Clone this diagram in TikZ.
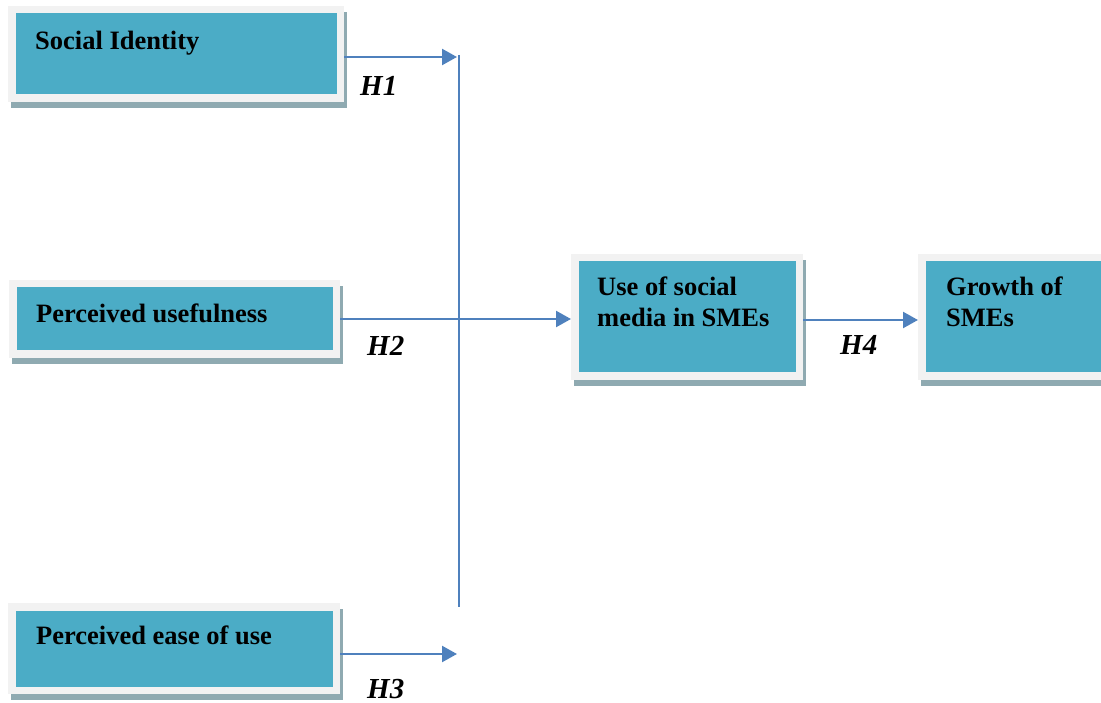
\documentclass[tikz,border=0pt]{standalone}
\usepackage{fontspec}
\setmainfont{Liberation Serif}
\usepackage{xcolor}
\usepackage{tikz}
\usetikzlibrary{arrows.meta}
\definecolor{boxfill}{HTML}{4BACC6}
\definecolor{boxframe}{HTML}{F2F2F2}
\definecolor{boxshade}{HTML}{8FAAB1}
\definecolor{linkblue}{HTML}{4F81BD}

\begin{document}
\begin{tikzpicture}[x=1pt,y=-1pt]
  \tikzstyle{factor} = [draw=boxframe,fill=boxfill,line width=7.5pt,inner sep=0pt,
    preaction={draw=boxshade,fill=boxshade,line width=7.5pt,
      transform canvas={xshift=3pt,yshift=-6pt}}]
  \tikzstyle{factortext} = [anchor=base west,inner sep=0pt,align=left,
    font=\bfseries\fontsize{26.5}{31}\selectfont]
  \tikzstyle{hyp} = [anchor=base west,inner sep=0pt,
    font=\bfseries\itshape\fontsize{29}{31}\selectfont]
  \tikzstyle{link} = [draw=linkblue,line width=2.3pt]
  \tikzstyle{linkarrow} = [link,-{Triangle[length=15pt,width=16pt]}]
  %
  \useasboundingbox (0,0) rectangle (1101,703);

  % Boxes.
  \node[factor,minimum width=328.5pt,minimum height=88.5pt] (social) at (176,54) {};
  \node[factor,minimum width=323.5pt,minimum height=70.5pt] (useful) at (174.5,319) {};
  \node[factor,minimum width=324.5pt,minimum height=83.5pt] (ease) at (174,648.5) {};
  \node[factor,minimum width=224.5pt,minimum height=118.5pt] (usesm) at (687,317) {};
  \node[factor,minimum width=184.5pt,minimum height=118.5pt] (growth) at (1014,317) {};

  % Box texts (base = last line).
  \node[factortext] (socialtext) at (35,50) {Social Identity};
  \node[factortext] (usefultext) at (36,323) {Perceived usefulness};
  \node[factortext] (easetext) at (36,644) {Perceived ease of use};
  \node[factortext] (usesmtext) at (597,327) {Use of social\\media in SMEs};
  \node[factortext] (growthtext) at (946,327) {Growth of\\SMEs};

  % Hypotheses.
  \node[hyp] (h1) at (360,96) {H1};
  \node[hyp] (h2) at (367,356) {H2};
  \node[hyp] (h3) at (367,698) {H3};
  \node[hyp] (h4) at (840,355) {H4};

  % Draw lines.
  \coordinate (top) at (459,55);
  \coordinate (bottom) at (459,607);
  \coordinate (tip1) at (457,57);
  \coordinate (tip3) at (457,654);
  \draw[link] (top) -- (bottom);
  \draw[linkarrow] (social.east |- tip1) -- (tip1);
  \draw[linkarrow] (ease.east |- tip3) -- (tip3);
  \draw[linkarrow] (useful.east) -- (useful.east -| usesm.west);
  \draw[linkarrow] ([yshift=-3pt]usesm.east) -- ([yshift=-3pt]growth.west);
  %
\end{tikzpicture}
\end{document}
